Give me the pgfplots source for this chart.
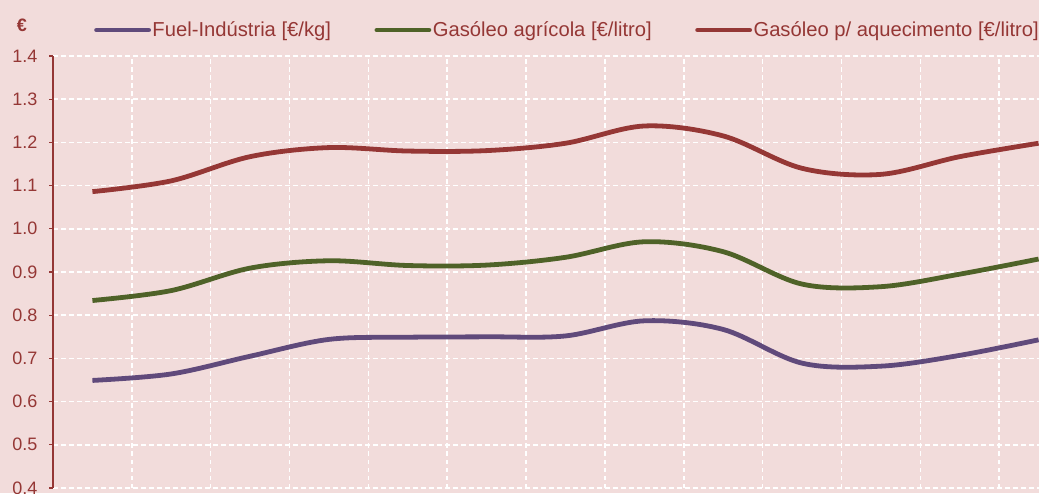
\documentclass[border=0pt]{standalone}
\usepackage{pgfplots}
\pgfplotsset{compat=1.18}
\usepackage{fontspec}
\setmainfont{Liberation Sans}
\definecolor{bg}{HTML}{F2DCDB}
\definecolor{txt}{HTML}{953735}
\definecolor{cpurple}{HTML}{604A7B}
\definecolor{cgreen}{HTML}{4F6228}
\definecolor{cred}{HTML}{953735}
\pgfplotstableread{
x fuel agri aquec
1  0.649 0.834 1.086
2  0.664 0.857 1.111
3  0.705 0.909 1.167
4  0.744 0.926 1.188
5  0.749 0.915 1.180
6  0.750 0.916 1.181
7  0.752 0.934 1.198
8  0.787 0.970 1.238
9  0.767 0.947 1.215
10 0.689 0.872 1.140
11 0.682 0.866 1.126
12 0.707 0.895 1.167
13 0.743 0.930 1.198
}\datatable
\begin{document}
\begin{tikzpicture}[x=1pt,y=1pt]
\fill[bg] (0,0) rectangle (1039,493);
\useasboundingbox (0,0) rectangle (1039,493);
\clip (0,0) rectangle (1039,493);
\node[font=\fontsize{18}{20}\selectfont\bfseries, text=txt] at (22,468) {€};
\begin{axis}[
  at={(53pt,5pt)}, anchor=south west, scale only axis,
  width=1025pt, height=432pt,
  xmin=0.5, xmax=13.5, ymin=0.4, ymax=1.4,
  axis y line*=left, axis x line*=bottom,
  x axis line style={draw=none},
  y axis line style={draw=txt, line width=1.2pt},
  xtick={1.5,2.5,3.5,4.5,5.5,6.5,7.5,8.5,9.5,10.5,11.5,12.5},
  xticklabels={},
  xtick style={draw=none},
  ytick={0.4,0.5,0.6,0.7,0.8,0.9,1.0,1.1,1.2,1.3,1.4},
  ytick style={draw=txt, line width=1.2pt},
  tick align=outside, major tick length=4pt,
  xmajorgrids, ymajorgrids,
  major grid style={white, line width=1.6pt, dash pattern=on 4.5pt off 3.5pt},
  yticklabel style={font=\fontsize{18}{20}\selectfont, text=txt, xshift=-8pt,
    /pgf/number format/.cd, fixed, fixed zerofill, precision=1},
  /pgf/number format/assume math mode=true,
  legend columns=3,
  legend style={at={(axis description cs:0.040,1.06)}, anchor=west,
    draw=none, fill=none, inner xsep=0pt, inner ysep=0pt,
    font=\fontsize{20.2}{22}\selectfont, text=txt,
    nodes={inner xsep=1.5pt, inner ysep=0pt},
    /tikz/every even column/.append style={column sep=42pt}},
  legend image code/.code={\draw[#1, line cap=round] (0pt,0pt) -- (52pt,0pt);},
  every axis plot/.append style={line width=4.8pt, smooth, tension=0.55},
]
\addplot[cpurple, no markers] table[x=x, y=fuel] {\datatable};
\addlegendentry{Fuel-Indústria [€/kg]}
\addplot[cgreen, no markers] table[x=x, y=agri] {\datatable};
\addlegendentry{Gasóleo agrícola [€/litro]}
\addplot[cred, no markers] table[x=x, y=aquec] {\datatable};
\addlegendentry{Gasóleo p/ aquecimento [€/litro]}
\end{axis}
\end{tikzpicture}
\end{document}
